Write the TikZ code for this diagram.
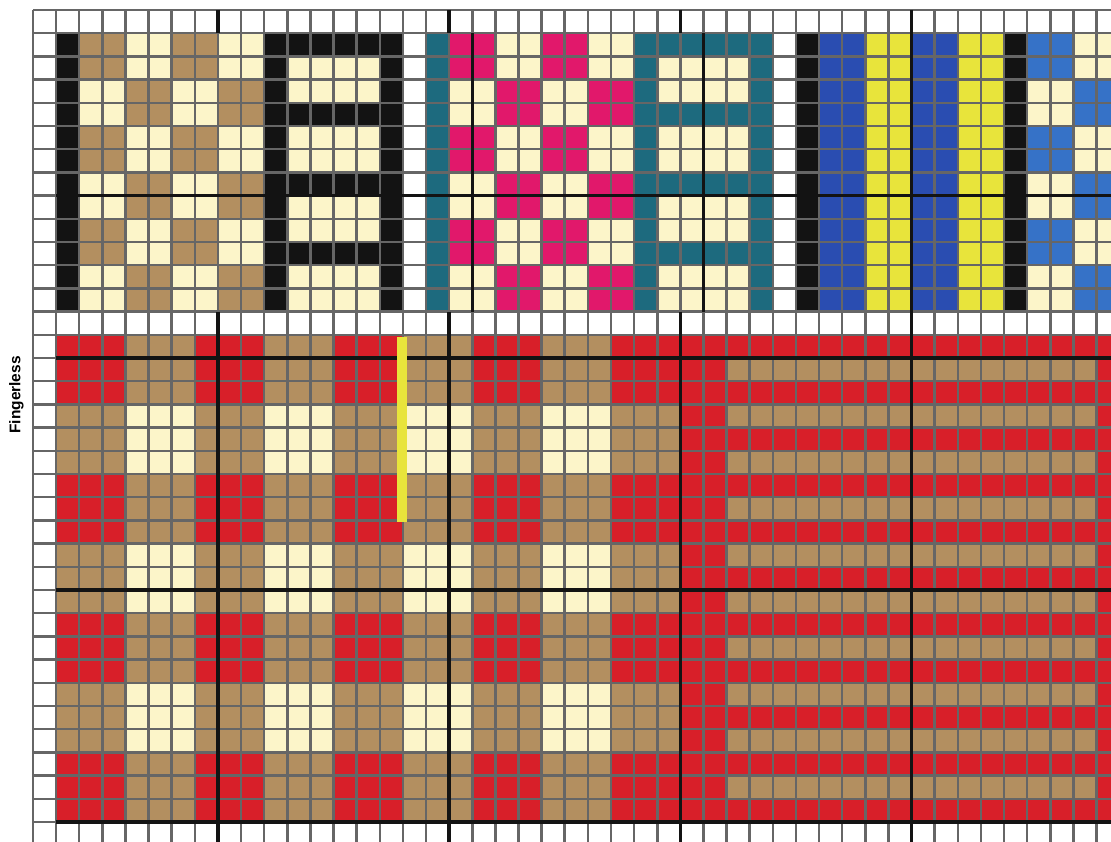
\documentclass[tikz,border=0pt]{standalone}
\usepackage{fontspec}
\setmainfont{Liberation Sans}
\definecolor{tan}{HTML}{B38F60}
\definecolor{cream}{HTML}{FCF5C9}
\definecolor{ink}{HTML}{131313}
\definecolor{berry}{HTML}{E1186B}
\definecolor{lagoon}{HTML}{1D6A7E}
\definecolor{royal}{HTML}{2A4DB1}
\definecolor{sky}{HTML}{3672C7}
\definecolor{lemon}{HTML}{E8E43B}
\definecolor{cherry}{HTML}{D81F29}
\definecolor{gridgray}{HTML}{666666}
\newcommand{\cell}[3]{\fill[#3] (#1,#2) rectangle ++(1,1);}

\begin{document}
\begin{tikzpicture}[
        x=0.578cm, y=-0.58cm,
        gridline/.style={draw=gridgray, line width=1.8pt},
        major/.style={draw=ink, line width=2.4pt},
        side label/.style={rotate=90, font=\bfseries\fontsize{11}{13}\selectfont}
    ]
    \useasboundingbox (-1.427,-0.431) rectangle (46.626,35.82);
    \fill[white] (-1.427,-0.431) rectangle (46.626,35.82);
    \begin{scope}
    \clip (-1.427,-0.431) rectangle (46.626,35.82);
    % top swatches
    \fill[ink] (1,1) rectangle (2,13);
    \fill[ink] (10,1) rectangle (11,13);
    \fill[ink] (15,1) rectangle (16,13);
    \fill[lagoon] (17,1) rectangle (18,13);
    \fill[lagoon] (26,1) rectangle (27,13);
    \fill[lagoon] (31,1) rectangle (32,13);
    \fill[ink] (33,1) rectangle (34,13);
    \fill[royal] (34,1) rectangle (36,13);
    \fill[lemon] (36,1) rectangle (38,13);
    \fill[royal] (38,1) rectangle (40,13);
    \fill[lemon] (40,1) rectangle (42,13);
    \fill[ink] (42,1) rectangle (43,13);
    \foreach \r in {1,...,12} {
        \pgfmathtruncatemacro\band{mod(floor((\r-1)/2),2)}
        \pgfmathtruncatemacro\rung{mod(\r-1,3)}
        \foreach \c in {0,...,3} {
            \pgfmathtruncatemacro\pair{mod(\c,2)}
            \ifnum\band=\pair
                \fill[tan] (2+2*\c,\r) rectangle ++(2,1);
                \fill[berry] (18+2*\c,\r) rectangle ++(2,1);
            \else
                \fill[cream] (2+2*\c,\r) rectangle ++(2,1);
                \fill[cream] (18+2*\c,\r) rectangle ++(2,1);
            \fi
        }
        \foreach \c in {0,1} {
            \ifnum\band=\c
                \fill[sky] (43+2*\c,\r) rectangle ++(2,1);
            \else
                \fill[cream] (43+2*\c,\r) rectangle ++(2,1);
            \fi
        }
        \ifnum\rung=0
            \fill[ink] (11,\r) rectangle ++(4,1);
            \fill[lagoon] (27,\r) rectangle ++(4,1);
        \else
            \fill[cream] (11,\r) rectangle ++(4,1);
            \fill[cream] (27,\r) rectangle ++(4,1);
        \fi
    }
    % bottom chart
    \foreach \r in {14,...,34} {
        \pgfmathtruncatemacro\trio{mod(floor((\r-14)/3),2)}
        \pgfmathtruncatemacro\odd{mod(\r-14,2)}
        \foreach \c in {1,...,27} {
            \pgfmathtruncatemacro\grp{mod(floor((\c-1)/3),2)}
            \ifnum\trio=0
                \ifnum\grp=0 \cell{\c}{\r}{cherry}\else\cell{\c}{\r}{tan}\fi
            \else
                \ifnum\grp=0 \cell{\c}{\r}{tan}\else\cell{\c}{\r}{cream}\fi
            \fi
        }
        \ifnum\odd=0 \def\stripe{cherry}\else\def\stripe{tan}\fi
        \fill[\stripe] (30,\r) rectangle (46,\r+1);
    }
    \fill[cherry] (28,14) rectangle (30,35);
    \fill[cherry] (46,14) rectangle (47,35);
    % grid
    \foreach \c in {0,...,46} \draw[gridline] (\c,0) -- (\c,35.9);
    \foreach \r in {0,...,35} \draw[gridline] (0,\r) -- (46.7,\r);
    \foreach \c in {8,18,28} {
        \draw[major] (\c,0) -- (\c,1);
        \draw[major] (\c,13) -- (\c,35.9);
    }
    \foreach \c in {19,29} \draw[major] (\c,1) -- (\c,13);
    \draw[major] (38,0) -- (38,35.9);
    \foreach \r in {8,15,25,35} \draw[major] (1,\r) -- (46.7,\r);
    \fill[lemon] (15.75,14.08) rectangle (16.18,22.05);
    \end{scope}
    \node[side label] (fingerless) at (-0.714,16.59) {Fingerless};
\end{tikzpicture}
\end{document}
